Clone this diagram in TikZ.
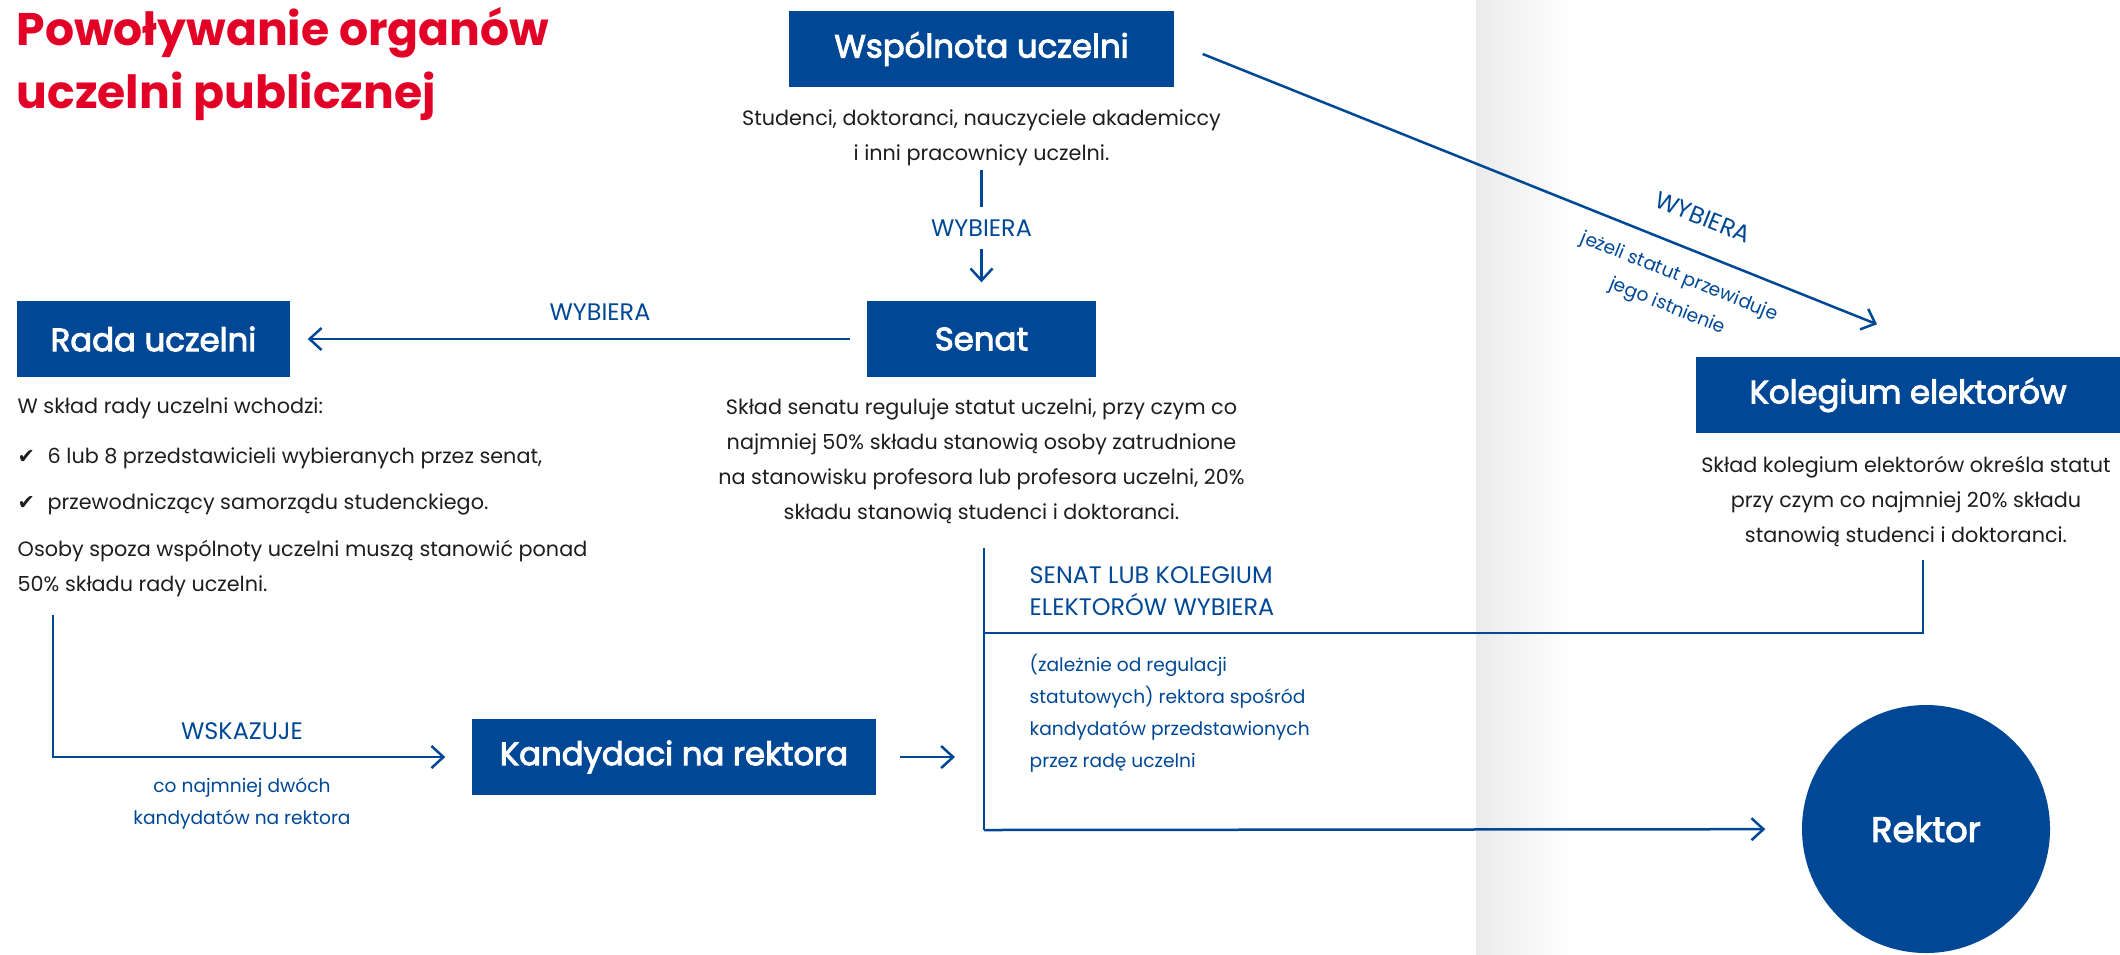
\documentclass[tikz,border=0pt]{standalone}
\usepackage{fontspec}
\setmainfont{Poppins}
\newfontfamily\organfont{Poppins}[FakeBold=3]
\newfontfamily\symfont{DejaVu Sans}
\usetikzlibrary{arrows.meta,positioning}
\definecolor{uniblue}{RGB}{0,72,150}
\definecolor{unired}{RGB}{226,0,38}
\definecolor{bodytext}{RGB}{29,29,27}

\begin{document}
\begin{tikzpicture}[x=0.1mm, y=-0.1mm,
  organ/.style={fill=uniblue, text=white, font=\organfont\fontsize{9.2}{11}\selectfont, minimum height=7.6mm, inner sep=0pt},
  desc/.style={text=bodytext, font=\fontsize{5.9}{10}\selectfont, inner sep=0pt, align=center},
  verb/.style={text=uniblue, font=\fontsize{6.8}{9.1}\selectfont, inner sep=0pt},
  note/.style={text=uniblue, font=\fontsize{5.3}{9.1}\selectfont, inner sep=0pt},
  wire/.style={draw=uniblue, line width=0.25mm},
  arr/.style={wire, -{Straight Barb[length=1.2mm, width=2.2mm]}}]
\useasboundingbox (0,0) rectangle (2120,954);
%
\shade[left color=gray!16, right color=white] (1476,0) rectangle (1575,954);
%
\node[anchor=north west, inner sep=0pt, align=left, text=unired, font=\fontsize{13}{17.9}\selectfont\bfseries] (title) at (16,7) {Powoływanie organów\\uczelni publicznej};
%
% organy
\node[organ, minimum width=38.5mm] (wsp) at (981.5,49) {Wspólnota uczelni};
\node[organ, minimum width=22.9mm] (senat) at (981.5,339) {Senat};
\node[organ, minimum width=27.3mm] (rada) at (153.5,339) {Rada uczelni};
\node[organ, minimum width=40.4mm] (kand) at (674,757) {Kandydaci na rektora};
\node[organ, minimum width=42.4mm] (kol) at (1908,395) {Kolegium elektorów};
\node[organ, circle, minimum size=24.8mm, font=\organfont\fontsize{10}{12}\selectfont] (rektor) at (1926,829) {Rektor};
%
% opisy
\node[desc, anchor=north] (wspsub) at (981.5,109) {Studenci, doktoranci, nauczyciele akademiccy\\i inni pracownicy uczelni.};
\node[desc, anchor=north] (senatsub) at (981.5,398) {Skład senatu reguluje statut uczelni, przy czym co\\najmniej 50\% składu stanowią osoby zatrudnione\\na stanowisku profesora lub profesora uczelni, 20\%\\składu stanowią studenci i doktoranci.};
\node[desc, anchor=north] (kolsub) at (1906,455) {Skład kolegium elektorów określa statut\\przy czym co najmniej 20\% składu\\stanowią studenci i doktoranci.};
\node[desc, anchor=base west] (radaintro) at (17,413) {W skład rady uczelni wchodzi:};
\node[desc, anchor=base west] (checkA) at (17,463) {\symfont ✔};
\node[desc, anchor=base west] (itemA) at (47,463) {6 lub 8 przedstawicieli wybieranych przez senat,};
\node[desc, anchor=base west] (checkB) at (17,509) {\symfont ✔};
\node[desc, anchor=base west] (itemB) at (47,509) {przewodniczący samorządu studenckiego.};
\node[desc, anchor=north west, align=left] (radanote) at (17,539) {Osoby spoza wspólnoty uczelni muszą stanowić ponad\\50\% składu rady uczelni.};
%
% etykiety
\node[verb, inner ysep=1.2mm] (wybA) at (981.5,228) {WYBIERA};
\node[verb] (wybB) at (600,312) {WYBIERA};
\node[verb] (wskaz) at (242,731) {WSKAZUJE};
\node[note, anchor=north, align=center] (wskazsub) at (242,777) {co najmniej dwóch\\kandydatów na rektora};
\node[verb, anchor=north west, align=left] (wybC) at (1029,566) {SENAT LUB KOLEGIUM\\ELEKTORÓW WYBIERA};
\node[note, anchor=north west, align=left] (wybCsub) at (1029,653) {(zależnie od regulacji\\statutowych) rektora spośród\\kandydatów przedstawionych\\przez radę uczelni};
%
\coordinate (radaout) at (53,615);
\coordinate (jtop) at (984,548);
\coordinate (jmid) at (984,633);
\coordinate (jbot) at (984,830);
\coordinate (kolout) at (1923,560);
%
% strzalki
\draw[wire, shorten <=0.3mm] (wspsub) -- (wybA);
\draw[arr, shorten >=1.8mm] (wybA) -- (senat);
\draw[arr, shorten <=1.6mm, shorten >=1.7mm] (senat) -- (rada);
\draw[arr] ([xshift=2.8mm, yshift=-0.5mm]wsp.east) -- ([xshift=-3.1mm, yshift=3.2mm]kol.north)
  node[verb, pos=0.723, sloped, above=2.5mm] (wybD) {WYBIERA}
  node[note, pos=0.723, sloped, below=1.9mm, align=center] (wybDsub) {jeżeli statut przewiduje\\jego istnienie};
\draw[arr, shorten >=2.6mm] (radaout) |- (kand);
\draw[arr, shorten <=2.3mm, shorten >=2.9mm] (kand) -- (kand -| jtop);
\draw[wire] (jtop) -- (jbot);
\draw[arr, shorten >=3.6mm] (jbot) -- (rektor);
\draw[wire] (kolout) |- (jmid);
\end{tikzpicture}
\end{document}
